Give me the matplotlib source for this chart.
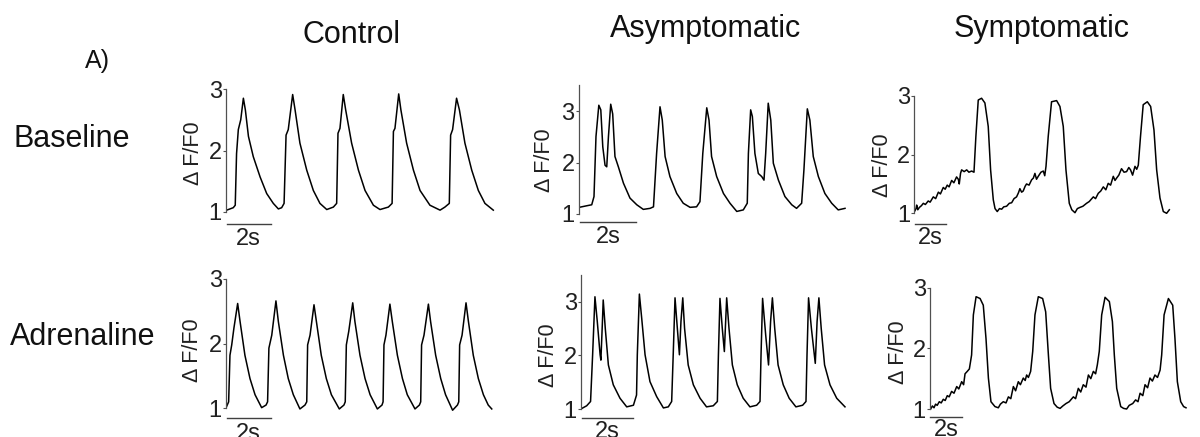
import matplotlib.pyplot as plt

# Calcium transients (delta F / F0): time in s, value in dF/F0
control_base_t = [0.03, 0.33, 0.42, 0.48, 0.56, 0.67, 0.79, 0.88, 1.02, 1.24,
                  1.55, 1.85, 2.15, 2.38, 2.53, 2.64, 2.73, 2.83, 3.03, 3.14,
                  3.36, 3.67, 3.97, 4.27, 4.58, 4.88, 5.03, 5.09, 5.18, 5.33,
                  5.44, 5.71, 6.02, 6.32, 6.70, 7.00, 7.38, 7.55, 7.61, 7.68,
                  7.85, 7.95, 8.21, 8.52, 8.82, 9.27, 9.73, 9.95, 10.15, 10.21,
                  10.30, 10.48, 10.61, 10.86, 11.17, 11.47, 11.77, 12.15]
control_base_v = [1.03, 1.07, 1.11, 1.95, 2.34, 2.50, 2.85, 2.66, 2.23, 1.90,
                  1.57, 1.30, 1.14, 1.05, 1.07, 1.14, 2.25, 2.34, 2.91, 2.66,
                  2.12, 1.68, 1.35, 1.14, 1.04, 1.08, 1.14, 2.28, 2.36, 2.91,
                  2.66, 2.12, 1.68, 1.35, 1.11, 1.04, 1.08, 1.14, 2.31, 2.36,
                  2.92, 2.66, 2.12, 1.68, 1.35, 1.11, 1.03, 1.08, 1.14, 2.25,
                  2.34, 2.85, 2.66, 2.12, 1.68, 1.35, 1.14, 1.03]

asym_base_t = [0.02, 0.28, 0.46, 0.54, 0.61, 0.71, 0.78, 0.85, 0.93, 0.99,
               1.05, 1.13, 1.20, 1.28, 1.40, 1.58, 1.81, 2.05, 2.28, 2.52,
               2.64, 2.75, 2.87, 2.95, 3.05, 3.22, 3.46, 3.69, 3.93, 4.16,
               4.28, 4.38, 4.52, 4.60, 4.69, 4.87, 5.11, 5.34, 5.58, 5.81,
               5.95, 5.99, 6.07, 6.13, 6.22, 6.34, 6.46, 6.54, 6.60, 6.69,
               6.78, 6.87, 7.05, 7.28, 7.52, 7.69, 7.87, 7.95, 8.07, 8.16,
               8.28, 8.46, 8.69, 8.93, 9.16, 9.40]
asym_base_v = [1.13, 1.16, 1.18, 1.34, 2.51, 3.12, 3.03, 2.31, 1.95, 1.92,
               2.51, 3.14, 2.95, 2.12, 1.92, 1.60, 1.31, 1.18, 1.09, 1.11,
               1.14, 2.18, 3.09, 2.83, 2.12, 1.73, 1.40, 1.21, 1.13, 1.14,
               1.24, 2.18, 3.07, 2.83, 2.12, 1.73, 1.40, 1.21, 1.05, 1.08,
               1.21, 2.18, 3.03, 2.90, 2.18, 1.79, 1.73, 1.66, 2.18, 3.16,
               2.83, 1.99, 1.66, 1.34, 1.18, 1.11, 1.21, 1.86, 3.05, 2.83,
               2.12, 1.73, 1.40, 1.21, 1.08, 1.11]

sym_base_t = [0.03, 0.11, 0.15, 0.22, 0.32, 0.45, 0.57, 0.70, 0.88, 1.00,
              1.20, 1.35, 1.52, 1.65, 1.83, 1.95, 2.08, 2.20, 2.36, 2.50,
              2.67, 2.78, 2.84, 2.92, 2.99, 3.15, 3.31, 3.45, 3.62, 3.77,
              3.89, 4.04, 4.25, 4.46, 4.67, 4.82, 4.99, 5.10, 5.24, 5.38,
              5.52, 5.65, 5.83, 6.00, 6.15, 6.30, 6.46, 6.58, 6.67, 6.78,
              6.88, 7.00, 7.09, 7.25, 7.41, 7.52, 7.62, 7.72, 7.83, 8.00,
              8.15, 8.24, 8.32, 8.46, 8.67, 8.99, 9.20, 9.41, 9.58, 9.79,
              9.95, 10.15, 10.30, 10.46, 10.65, 10.88, 11.05, 11.31, 11.45, 11.62,
              11.78, 11.94, 12.10, 12.25, 12.40, 12.57, 12.68, 12.78, 12.92, 13.09,
              13.25, 13.41, 13.55, 13.66, 13.79, 13.94, 14.05, 14.15, 14.29, 14.46,
              14.72, 14.93, 15.14, 15.31, 15.52, 15.73, 15.94, 16.11]
sym_base_v = [1.04, 1.08, 1.14, 1.06, 1.10, 1.13, 1.17, 1.15, 1.21, 1.19,
              1.28, 1.25, 1.36, 1.33, 1.44, 1.41, 1.48, 1.45, 1.56, 1.52,
              1.62, 1.58, 1.50, 1.68, 1.74, 1.71, 1.74, 1.70, 1.72, 1.70,
              2.31, 2.93, 2.96, 2.88, 2.48, 1.74, 1.23, 1.08, 1.03, 1.08,
              1.07, 1.11, 1.12, 1.17, 1.18, 1.25, 1.28, 1.35, 1.42, 1.36,
              1.38, 1.46, 1.50, 1.48, 1.57, 1.60, 1.68, 1.58, 1.63, 1.70,
              1.72, 1.64, 1.80, 2.31, 2.90, 2.92, 2.82, 2.48, 1.74, 1.17,
              1.06, 1.01, 1.08, 1.10, 1.12, 1.17, 1.20, 1.28, 1.25, 1.34,
              1.38, 1.45, 1.40, 1.51, 1.48, 1.63, 1.56, 1.60, 1.65, 1.76,
              1.70, 1.71, 1.78, 1.74, 1.65, 1.80, 1.75, 1.82, 2.31, 2.85,
              2.90, 2.82, 2.42, 1.74, 1.26, 1.03, 1.00, 1.06]

control_adr_t = [0.03, 0.12, 0.18, 0.26, 0.36, 0.53, 0.64, 0.86, 1.09, 1.32, 1.62, 1.82,
                 1.89, 1.95, 2.08, 2.27, 2.38, 2.61, 2.83, 3.06, 3.36, 3.59,
                 3.67, 3.71, 3.82, 4.00, 4.11, 4.33, 4.56, 4.79, 5.15, 5.36,
                 5.42, 5.47, 5.58, 5.76, 5.86, 6.09, 6.32, 6.55, 6.88, 7.09,
                 7.14, 7.18, 7.27, 7.45, 7.56, 7.79, 8.02, 8.24, 8.59, 8.79,
                 8.85, 8.89, 9.00, 9.20, 9.30, 9.53, 9.76, 9.98, 10.30, 10.52,
                 10.58, 10.62, 10.73, 10.91, 11.02, 11.24, 11.47, 11.70, 11.92, 12.08]
control_adr_v = [1.03, 1.10, 1.82, 1.98, 2.24, 2.62, 2.34, 1.82, 1.46, 1.21, 1.01, 1.05,
                 1.10, 1.93, 2.13, 2.66, 2.34, 1.82, 1.46, 1.21, 0.99, 1.05,
                 1.10, 1.98, 2.13, 2.60, 2.34, 1.82, 1.46, 1.21, 0.99, 1.05,
                 1.10, 1.98, 2.19, 2.63, 2.34, 1.82, 1.46, 1.21, 0.99, 1.05,
                 1.10, 1.98, 2.13, 2.61, 2.34, 1.82, 1.46, 1.21, 0.99, 1.05,
                 1.10, 1.98, 2.13, 2.61, 2.34, 1.82, 1.46, 1.21, 0.97, 1.05,
                 1.10, 1.98, 2.13, 2.63, 2.34, 1.82, 1.46, 1.21, 1.05, 0.99]

asym_adr_t = [0.03, 0.22, 0.37, 0.45, 0.54, 0.63, 0.74, 0.77, 0.83, 0.86,
              0.94, 1.06, 1.25, 1.51, 1.77, 2.03, 2.15, 2.18, 2.26, 2.35,
              2.48, 2.67, 2.93, 3.19, 3.38, 3.51, 3.57, 3.64, 3.73, 3.81,
              3.87, 3.94, 4.01, 4.15, 4.35, 4.61, 4.86, 5.12, 5.28, 5.32,
              5.38, 5.47, 5.55, 5.60, 5.64, 5.73, 5.86, 6.05, 6.28, 6.54,
              6.80, 6.93, 6.97, 7.03, 7.15, 7.26, 7.34, 7.41, 7.50, 7.63,
              7.83, 8.06, 8.32, 8.58, 8.71, 8.75, 8.81, 8.92, 9.07, 9.14,
              9.21, 9.30, 9.43, 9.64, 9.90, 10.22]
asym_adr_v = [1.01, 1.06, 1.14, 2.01, 3.09, 2.63, 2.01, 1.91, 2.63, 3.03,
              2.50, 1.82, 1.45, 1.20, 1.04, 1.07, 1.26, 2.01, 3.14, 2.69,
              2.01, 1.51, 1.23, 1.02, 1.04, 1.14, 2.01, 3.07, 2.50, 2.01,
              2.63, 3.07, 2.50, 1.82, 1.45, 1.20, 1.04, 1.06, 1.14, 2.01,
              3.06, 2.50, 2.07, 2.63, 3.07, 2.50, 1.82, 1.45, 1.20, 1.04,
              1.07, 1.14, 2.01, 3.06, 2.38, 1.82, 2.63, 3.07, 2.50, 1.82,
              1.45, 1.20, 1.04, 1.07, 1.14, 2.01, 3.07, 2.50, 1.85, 2.63,
              3.07, 2.50, 1.82, 1.45, 1.20, 1.04]

sym_adr_t = [0.04, 0.15, 0.25, 0.35, 0.45, 0.58, 0.70, 0.83, 0.95, 1.08,
             1.20, 1.35, 1.50, 1.67, 1.80, 1.98, 2.10, 2.19, 2.33, 2.46,
             2.60, 2.71, 2.88, 3.13, 3.33, 3.50, 3.65, 3.81, 4.06, 4.27,
             4.40, 4.58, 4.75, 4.90, 5.05, 5.21, 5.35, 5.52, 5.65, 5.83,
             5.95, 6.04, 6.15, 6.29, 6.42, 6.56, 6.77, 7.04, 7.23, 7.40,
             7.54, 7.75, 7.95, 8.13,
             8.30, 8.50, 8.70, 8.96, 9.10, 9.27, 9.42, 9.58, 9.75, 9.90,
             10.05, 10.21, 10.35, 10.46, 10.58, 10.73, 10.94, 11.21, 11.40, 11.52,
             11.67, 11.92, 12.10, 12.29,
             12.45, 12.67, 12.85, 13.00, 13.13, 13.30, 13.44, 13.60, 13.75, 13.90,
             14.06, 14.22, 14.38, 14.48, 14.63, 14.90, 15.17, 15.31, 15.46, 15.67,
             15.85, 16.00]
sym_adr_v = [1.00, 1.05, 1.02, 1.08, 1.06, 1.12, 1.10, 1.16, 1.14, 1.22,
             1.20, 1.29, 1.26, 1.37, 1.33, 1.45, 1.40, 1.58, 1.62, 1.66,
             1.89, 2.55, 2.85, 2.82, 2.71, 2.16, 1.51, 1.12, 1.04, 1.02,
             1.08, 1.12, 1.10, 1.20, 1.17, 1.37, 1.30, 1.45, 1.40, 1.51,
             1.47, 1.56, 1.52, 1.62, 1.95, 2.55, 2.85, 2.82, 2.60, 1.89,
             1.34, 1.09, 1.03, 1.01,
             1.05, 1.09, 1.12, 1.20, 1.17, 1.34, 1.28, 1.40, 1.36, 1.56,
             1.50, 1.62, 1.58, 1.73, 1.95, 2.55, 2.84, 2.77, 2.44, 1.89,
             1.34, 1.04, 1.01, 1.00,
             1.06, 1.09, 1.15, 1.12, 1.26, 1.22, 1.40, 1.35, 1.51, 1.46,
             1.56, 1.52, 1.64, 1.89, 2.55, 2.82, 2.71, 2.16, 1.45, 1.12,
             1.04, 1.02]

col_titles = ["Control", "Asymptomatic", "Symptomatic"]
row_titles = ["Baseline", "Adrenaline"]
y_ticks = [1, 2, 3]
scale_bar_s = 2
scale_bar_label = "2s"
y_label = "\u0394 F/F0"

W, H = 1200, 437
plt.rcParams["font.family"] = ["Liberation Sans", "DejaVu Sans"]
fig = plt.figure(figsize=(W / 100, H / 100), dpi=100)
fig.patch.set_facecolor("white")


def px(x, y):
    # pixel position (from top-left) -> figure fraction
    return x / W, 1 - y / H


def add_panel(t, v, x0, y1, pps, ppu, ytop, xmax, bar_v, text_v, lab_xy):
    ymin, ymax = 0.4, ytop + 0.06
    left = x0
    right = x0 + xmax * pps
    top = y1 - (ymax - 1) * ppu
    bottom = y1 + (1 - ymin) * ppu
    ax = fig.add_axes([left / W, 1 - bottom / H, (right - left) / W, (bottom - top) / H])
    ax.patch.set_alpha(0)
    ax.set_xlim(0, xmax)
    ax.set_ylim(ymin, ymax)

    ax.plot(t, v, color="black", lw=1.1, solid_joinstyle="round")

    for side in ["top", "right", "bottom"]:
        ax.spines[side].set_visible(False)
    ax.spines["left"].set_bounds(1, ytop)
    ax.spines["left"].set_color("#505050")
    ax.spines["left"].set_linewidth(0.9)
    ax.xaxis.set_visible(False)
    ax.set_yticks(y_ticks)
    ax.tick_params(axis="y", length=2, width=0.8, pad=1, labelsize=17,
                   color="#505050", labelcolor="#202020")

    # time scale bar under the trace
    ax.plot([0.03, 0.03 + scale_bar_s], [bar_v, bar_v], color="#404040",
            lw=1.0, clip_on=False)
    ax.text(0.03 + scale_bar_s / 2, text_v, scale_bar_label, ha="center", va="top",
            fontsize=17, color="#202020", clip_on=False)

    fx, fy = px(*lab_xy)
    fig.text(fx, fy, y_label, rotation=90, ha="center", va="center",
             fontsize=15.5, color="#202020")
    return ax


add_panel(control_base_t, control_base_v, 226, 212, 22, 61.5, 3, 12.4, 0.81, 0.74, (194, 153))
add_panel(asym_base_t, asym_base_v, 578.7, 214, 28.33, 51.3, 3.52, 9.6, 0.85, 0.76, (545, 160))
add_panel(sym_base_t, sym_base_v, 914.3, 213.3, 15.83, 58.7, 3, 16.3, 0.82, 0.77, (883, 165))
add_panel(control_adr_t, control_adr_v, 226, 408.3, 22, 64.7, 3, 12.3, 0.85, 0.78, (193, 350))
add_panel(asym_adr_t, asym_adr_v, 581, 409, 25.83, 53.7, 3.5, 10.4, 0.84, 0.77, (548, 355))
add_panel(sym_adr_t, sym_adr_v, 930, 409, 16, 60.7, 3, 16.2, 0.87, 0.83, (899, 352))

# column and row headings
for title, (x, y) in zip(col_titles, [(352, 43), (706, 37), (1042, 37)]):
    fig.text(*px(x, y), title, ha="center", va="baseline", fontsize=22, color="#111111")
for title, (x, y) in zip(row_titles, [(13, 147), (10, 345)]):
    fig.text(*px(x, y), title, ha="left", va="baseline", fontsize=22, color="#111111")
fig.text(*px(85, 68), "A)", ha="left", va="baseline", fontsize=18, color="#111111")

fig.savefig("out.png", dpi=100)
